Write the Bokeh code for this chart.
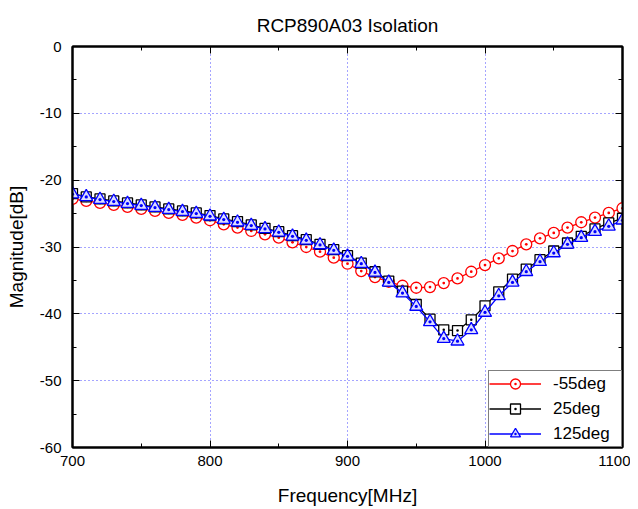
from bokeh.plotting import figure
from bokeh.models import (LinearAxis, Legend, LegendItem, Range1d,
                          SingleIntervalTicker, CustomJSTickFormatter)
from bokeh.embed import file_html
from bokeh.resources import INLINE

title_text = "RCP890A03 Isolation"
x_label = "Frequency[MHz]"
y_label = "Magnitude[dB]"

freq = list(range(700, 1101, 10))

m55 = [-22.8, -23.1, -23.4, -23.7, -24.0, -24.3, -24.6, -24.9, -25.2, -25.6,
       -26.0, -26.6, -27.1, -27.6, -28.1, -28.6, -29.3, -30.0, -30.7, -31.6,
       -32.5, -33.6, -34.5, -35.2, -35.8, -36.1, -36.0, -35.4, -34.7, -33.7,
       -32.7, -31.7, -30.6, -29.6, -28.7, -27.9, -27.1, -26.3, -25.6, -24.9,
       -24.2]

p25 = [-22.0, -22.5, -22.8, -23.1, -23.4, -23.7, -24.0, -24.3, -24.6, -24.9,
       -25.3, -25.8, -26.2, -26.7, -27.2, -27.7, -28.3, -28.9, -29.6, -30.4,
       -31.3, -32.4, -33.7, -35.1, -36.6, -38.6, -40.8, -42.4, -42.5, -40.9,
       -38.8, -36.7, -34.8, -33.3, -31.9, -30.6, -29.4, -28.4, -27.3, -26.4,
       -25.7]

p125 = [-22.1, -22.5, -22.9, -23.2, -23.5, -23.8, -24.1, -24.4, -24.7, -25.0,
        -25.4, -25.9, -26.3, -26.8, -27.3, -27.8, -28.4, -29.0, -29.7, -30.5,
        -31.4, -32.5, -33.8, -35.3, -36.9, -38.9, -41.2, -43.7, -44.1, -42.4,
        -39.8, -37.3, -35.3, -33.7, -32.2, -30.9, -29.6, -28.6, -27.7, -26.9,
        -26.0]

series_labels = ["-55deg", "25deg", "125deg"]

FONT = "Liberation Sans"

p = figure(width=630, height=508, output_backend="svg", toolbar_location=None,
           x_range=Range1d(700, 1100), y_range=Range1d(-60, 0),
           min_border_left=72, min_border_right=8, min_border_top=46,
           min_border_bottom=60, x_axis_label=x_label, y_axis_label=y_label,
           title=title_text)

bottom_ax = p.below[0]
left_ax = p.left[0]

p.background_fill_color = "white"
p.border_fill_color = "white"
p.outline_line_color = "black"
p.outline_line_width = 2

p.title.align = "center"
p.title.text_font = FONT
p.title.text_font_size = "19px"
p.title.text_font_style = "normal"
p.title.text_color = "black"
p.title.standoff = 22

bottom_ax.ticker = SingleIntervalTicker(interval=100, num_minor_ticks=2)
left_ax.ticker = SingleIntervalTicker(interval=10, num_minor_ticks=2)
plain = CustomJSTickFormatter(code="return String(tick)")
bottom_ax.formatter = plain
left_ax.formatter = plain

blank = CustomJSTickFormatter(code="return ''")
top_ax = LinearAxis(ticker=SingleIntervalTicker(interval=100, num_minor_ticks=2),
                    formatter=blank)
right_ax = LinearAxis(ticker=SingleIntervalTicker(interval=10, num_minor_ticks=2),
                      formatter=blank)
p.add_layout(top_ax, "above")
p.add_layout(right_ax, "right")

for ax in (bottom_ax, left_ax, top_ax, right_ax):
    ax.axis_line_color = "black"
    ax.axis_line_width = 2
    ax.major_tick_in = 7
    ax.major_tick_out = 0
    ax.minor_tick_in = 4
    ax.minor_tick_out = 0
    ax.major_tick_line_color = "black"
    ax.minor_tick_line_color = "black"
    ax.major_tick_line_width = 1
    ax.minor_tick_line_width = 1
    ax.major_label_text_font = FONT
    ax.major_label_text_font_size = "15px"
    ax.major_label_text_color = "black"
    ax.axis_label_text_font = FONT
    ax.axis_label_text_font_size = "19px"
    ax.axis_label_text_font_style = "normal"
    ax.axis_label_text_color = "black"

for ax in (top_ax, right_ax):
    ax.major_label_text_font_size = "1px"
    ax.major_label_standoff = 0
    ax.axis_label_standoff = 0

bottom_ax.major_label_standoff = 8
bottom_ax.axis_label_standoff = 16
left_ax.major_label_standoff = 11
left_ax.axis_label_standoff = 10

for g in (p.xgrid, p.ygrid):
    g.grid_line_color = "#4a4aff"
    g.grid_line_dash = "1 3"
    g.grid_line_width = 1

colors = ["#ff0000", "#000000", "#0000ff"]
fills = ["white", "white", "#dcdcff"]
markers = ["circle_dot", "square_dot", "triangle_dot"]
sizes = [11, 10, 13]
data = [m55, p25, p125]

items = []
for ys, c, f, m, s, lab in zip(data, colors, fills, markers, sizes, series_labels):
    rl = p.line(freq, ys, line_color=c, line_width=1.3)
    rm = p.scatter(freq, ys, marker=m, size=s, line_color=c, fill_color=f,
                   line_width=1.3)
    items.append(LegendItem(label=lab, renderers=[rl, rm]))

legend = Legend(items=items, location="bottom_right", margin=0, padding=0,
                spacing=0, glyph_width=52, glyph_height=25, label_height=25,
                label_width=68, label_standoff=12, border_line_color="black",
                border_line_width=1.5, background_fill_color="white",
                background_fill_alpha=1.0, label_text_font=FONT,
                label_text_font_size="17px", label_text_color="black")
p.add_layout(legend)

open("out.html", "w").write(file_html(p, INLINE))
